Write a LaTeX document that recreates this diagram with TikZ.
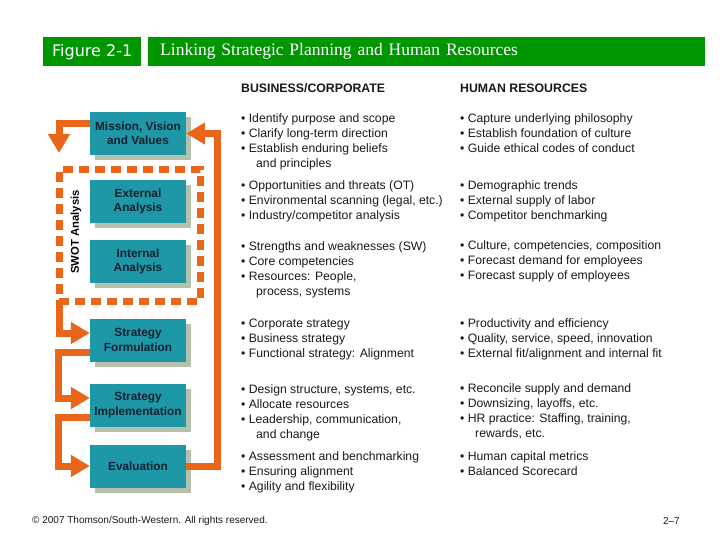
\documentclass[tikz,border=0pt]{standalone}
\usepackage{fontspec}
\setmainfont{Liberation Sans}
\newfontfamily\titlefont{Liberation Serif}
\newfontfamily\figfont{DejaVu Sans}
\usetikzlibrary{arrows.meta,shadows}

\definecolor{hdrgreen}{RGB}{0,150,0}
\definecolor{flowor}{RGB}{232,101,26}
\definecolor{boxteal}{RGB}{30,151,166}
\definecolor{boxshade}{RGB}{181,193,174}
\definecolor{boxtext}{RGB}{16,32,50}
\definecolor{listtext}{RGB}{25,25,25}

\tikzset{
    stagebox/.style={fill=boxteal, text=boxtext, minimum width=96pt, minimum height=43pt,
        inner sep=0pt, align=center, font=\bfseries\fontsize{11.8}{14.5}\selectfont,
        drop shadow={shadow xshift=5pt, shadow yshift=-5pt, fill=boxshade, opacity=1}},
    flow/.style={draw=flowor, line width=7pt, -{Triangle[width=21pt,length=19pt]}},
    swotframe/.style={draw=flowor, line width=7pt, dash pattern=on 10pt off 6pt,
        minimum width=141pt, minimum height=131.5pt, outer sep=0pt, inner sep=0pt},
    bullets/.style={anchor=north west, inner sep=0pt, align=left, text=listtext,
        font=\fontsize{12.2}{15}\selectfont},
    colhead/.style={anchor=north west, inner sep=0pt, text=listtext,
        font=\bfseries\fontsize{12.3}{15}\selectfont},
}
\newcommand{\firstln}{\rule{0pt}{9.5pt}}
\newcommand{\contln}{\hspace*{15pt}}

\begin{document}
\begin{tikzpicture}[x=1pt,y=-1pt]
    \useasboundingbox (0,0) rectangle (720,540);

    % title bar
    \node[fill=hdrgreen, minimum width=98pt, minimum height=29pt, inner sep=0pt, anchor=north west,
        text=white, font=\figfont\fontsize{16}{18}\selectfont] (fig) at (43,37) {Figure 2-1};
    \node[fill=hdrgreen, minimum height=29pt, inner xsep=12pt, inner ysep=0pt, text width=533pt,
        align=left, anchor=north west, text=white, font=\titlefont\fontsize{17.5}{19}\selectfont]
        (title) at (148,37) {Linking Strategic Planning and Human Resources};

    % stages
    \node[swotframe] (swot) at (129.5,235.25) {};
    \node[rotate=90, font=\bfseries\fontsize{11.3}{13}\selectfont] (swotlbl) at (76,232) {SWOT Analysis};

    \node[stagebox] (mission) at (138,133.5) {Mission, Vision\\and Values};
    \node[stagebox] (external) at (138,201.5) {External\\Analysis};
    \node[stagebox] (internal) at (138,261.5) {Internal\\Analysis};
    \node[stagebox] (formulation) at (138,340) {Strategy\\Formulation};
    \node[stagebox] (implementation) at (138,405) {Strategy\\Implementation};
    \node[stagebox] (evaluation) at (138,466) {Evaluation};

    \coordinate (swottop) at (59,153);
    \draw[flow] ([yshift=9.5pt]mission.west) -| (swottop);
    \draw[flow] (swot.south west) |- ([yshift=7pt]formulation.west);
    \draw[flow] ([yshift=-12pt]formulation.west) -- ++(-31,0) |- ([yshift=7pt]implementation.west);
    \draw[flow] ([yshift=-12pt]implementation.west) -- ++(-31,0) |- (evaluation.west);
    \draw[flow] (evaluation.east) -- ++(31,0) |- (mission.east);

    % business / corporate
    \node[colhead] (bizhead) at (241,83.5) {BUSINESS/CORPORATE};
    \node[bullets] (biza) at (241,112.5) {\firstln• Identify purpose and scope\\• Clarify long-term direction\\
        • Establish enduring beliefs\\\contln and principles};
    \node[bullets] (bizb) at (241,180) {\firstln• Opportunities and threats (OT)\\
        • Environmental scanning (legal, etc.)\\• Industry/competitor analysis};
    \node[bullets] (bizc) at (241,240.5) {\firstln• Strengths and weaknesses (SW)\\• Core competencies\\
        • Resources: People,\\\contln process, systems};
    \node[bullets] (bizd) at (241,318) {\firstln• Corporate strategy\\• Business strategy\\
        • Functional strategy: Alignment};
    \node[bullets] (bize) at (241,384) {\firstln• Design structure, systems, etc.\\• Allocate resources\\
        • Leadership, communication,\\\contln and change};
    \node[bullets] (bizf) at (241,450.5) {\firstln• Assessment and benchmarking\\• Ensuring alignment\\
        • Agility and flexibility};

    % human resources
    \node[colhead] (hrhead) at (460,83.5) {HUMAN RESOURCES};
    \node[bullets] (hra) at (460,112.5) {\firstln• Capture underlying philosophy\\
        • Establish foundation of culture\\• Guide ethical codes of conduct};
    \node[bullets] (hrb) at (460,180) {\firstln• Demographic trends\\• External supply of labor\\
        • Competitor benchmarking};
    \node[bullets] (hrc) at (460,240) {\firstln• Culture, competencies, composition\\
        • Forecast demand for employees\\• Forecast supply of employees};
    \node[bullets] (hrd) at (460,318) {\firstln• Productivity and efficiency\\
        • Quality, service, speed, innovation\\• External fit/alignment and internal fit};
    \node[bullets] (hre) at (460,383) {\firstln• Reconcile supply and demand\\• Downsizing, layoffs, etc.\\
        • HR practice: Staffing, training,\\\contln rewards, etc.};
    \node[bullets] (hrf) at (460,451) {\firstln• Human capital metrics\\• Balanced Scorecard};

    % footer
    \node[anchor=west, inner sep=0pt, text=listtext, font=\fontsize{10}{11}\selectfont]
        (copyr) at (32,521) {© 2007 Thomson/South-Western. All rights reserved.};
    \node[anchor=east, inner sep=0pt, text=listtext, font=\fontsize{10}{11}\selectfont]
        (pageno) at (680,521) {2–7};
\end{tikzpicture}
\end{document}
